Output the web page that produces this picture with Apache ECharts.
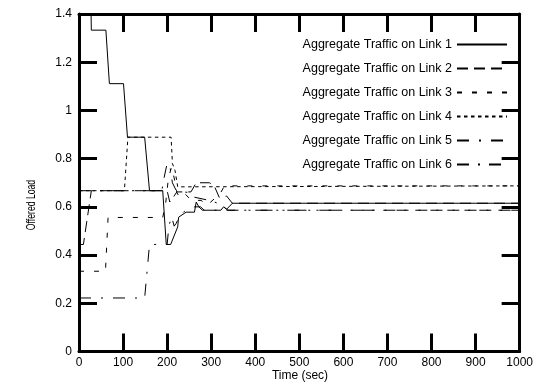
<!DOCTYPE html>
<html>
<head>
<meta charset="utf-8">
<script src="https://cdn.jsdelivr.net/npm/echarts@6/dist/echarts.min.js"></script>
<style>
  html, body { margin: 0; padding: 0; background: #fff; }
  #chart { width: 536px; height: 389px; }
</style>
</head>
<body>
<div id="chart"></div>
<script>
// Offered load per link over time: [time (sec), load]
const link1 = [[0,1.556],[26,1.556],[28,1.333],[61,1.333],[69,1.111],[101,1.111],[110,0.889],[149,0.889],[160,0.667],[190,0.667],[198,0.444],[208,0.444],[224,0.517],[226,0.557],[243,0.578],[262,0.578],[266,0.62],[272,0.60],[280,0.586],[322,0.586],[328,0.60],[335,0.59],[348,0.615],[1000,0.615]];
const link2 = [[0,0.444],[10,0.444],[28,0.667],[200,0.667],[206,0.62],[214,0.64],[222,0.662],[254,0.662],[266,0.70],[296,0.70],[307,0.687],[318,0.64],[335,0.645],[348,0.615],[1000,0.615]];
const link3 = [[0,0.333],[60,0.333],[66,0.556],[190,0.556],[197,0.62],[203,0.72],[210,0.765],[216,0.72],[222,0.66],[228,0.64],[240,0.655],[255,0.627],[277,0.627],[291,0.607],[311,0.64],[322,0.66],[330,0.687],[1000,0.687]];
const link4 = [[0,0.667],[103,0.667],[111,0.889],[209,0.889],[212,0.78],[218,0.75],[224,0.683],[1000,0.687]];
const link5 = [[0,0.222],[149,0.222],[160,0.444],[200,0.444],[204,0.52],[210,0.56],[216,0.52],[220,0.53],[228,0.56],[238,0.58],[262,0.60],[276,0.60],[284,0.586],[334,0.586],[1000,0.586]];
const link6 = [[0,0.667],[188,0.667],[193,0.72],[200,0.78],[206,0.77],[212,0.70],[220,0.67],[232,0.662],[250,0.66],[262,0.64],[300,0.625],[322,0.61],[338,0.586],[1000,0.586]];

const seriesNames = ['Aggregate Traffic on Link 1','Aggregate Traffic on Link 2','Aggregate Traffic on Link 3','Aggregate Traffic on Link 4','Aggregate Traffic on Link 5','Aggregate Traffic on Link 6'];
const seriesData = [link1, link2, link3, link4, link5, link6];
const dashes = ['solid', [11, 6], [5, 10], [3.5, 3.5], [12, 10, 2, 10], [12, 9, 2, 9]];

const FONT = "'Liberation Sans', Arial, Helvetica, sans-serif";

const chart = echarts.init(document.getElementById('chart'), null, { renderer: 'canvas' });

const frameLine = { show: true, onZero: false, lineStyle: { color: '#000', width: 3 } };
const innerTick = { show: true, inside: true, length: 18, lineStyle: { color: '#000', width: 3 } };

chart.setOption({
  animation: false,
  backgroundColor: '#fff',
  grid: { left: 79, right: 14.5, top: 14, bottom: 37.5, containLabel: false },
  legend: {
    orient: 'vertical',
    right: 28,
    top: 38,
    padding: 0,
    align: 'right',
    itemWidth: 50,
    itemHeight: 14,
    itemGap: 11,
    itemStyle: { opacity: 0 },
    textStyle: { color: '#000', fontSize: 12.5, fontFamily: FONT },
    data: seriesNames
  },
  xAxis: [
    {
      type: 'value', position: 'bottom', min: 0, max: 1000, interval: 100,
      axisLine: frameLine, axisTick: innerTick, splitLine: { show: false },
      axisLabel: { color: '#000', fontSize: 12, fontFamily: FONT, margin: 5, formatter: v => String(v) }
    },
    {
      type: 'value', position: 'top', min: 0, max: 1000, interval: 100,
      axisLine: frameLine, axisTick: innerTick, splitLine: { show: false },
      axisLabel: { show: false }
    }
  ],
  yAxis: [
    {
      type: 'value', position: 'left', min: 0, max: 1.4, interval: 0.2,
      axisLine: frameLine, axisTick: innerTick, splitLine: { show: false },
      axisLabel: { color: '#000', fontSize: 12, fontFamily: FONT, margin: 7 }
    },
    {
      type: 'value', position: 'right', min: 0, max: 1.4, interval: 0.2,
      axisLine: frameLine, axisTick: innerTick, splitLine: { show: false },
      axisLabel: { show: false }
    }
  ],
  graphic: [
    {
      type: 'text', x: 300, y: 376,
      style: { text: 'Time (sec)', fill: '#000', font: '12px ' + FONT, align: 'center', verticalAlign: 'middle', textAlign: 'center', textVerticalAlign: 'middle' }
    },
    {
      type: 'text', x: 32, y: 205, rotation: Math.PI / 2, scaleX: 0.72,
      style: { text: 'Offered Load', fill: '#000', font: '12px ' + FONT, align: 'center', verticalAlign: 'middle', textAlign: 'center', textVerticalAlign: 'middle' }
    }
  ],
  series: seriesNames.map((name, i) => ({
    name: name,
    type: 'line',
    xAxisIndex: 0,
    yAxisIndex: 0,
    data: seriesData[i],
    symbol: 'none',
    showSymbol: false,
    clip: true,
    lineStyle: { color: '#000', width: 1, type: dashes[i] },
    itemStyle: { color: '#000' },
    z: 2
  }))
});
</script>
</body>
</html>
